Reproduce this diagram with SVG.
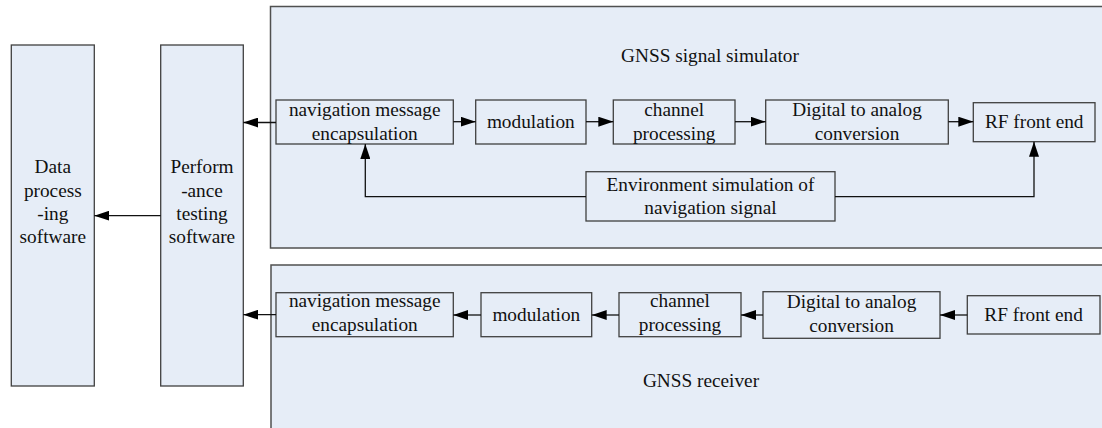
<svg xmlns="http://www.w3.org/2000/svg" width="1102" height="428" viewBox="0 0 1102 428">
  <style>
    .box { fill: #e6edf7; stroke: #404040; stroke-width: 1.3; }
    .panel { fill: #e6edf7; stroke: #505050; stroke-width: 1.5; }
    .lbl { font-family: "Liberation Serif", "Times New Roman", serif; font-size: 19.3px; fill: #111; text-anchor: middle; }
    .wire { fill: none; stroke: #111; stroke-width: 1.3; marker-end: url(#arrow); }
  </style>
  <defs>
    <marker id="arrow" viewBox="0 0 15 10" refX="15" refY="5" markerWidth="15" markerHeight="10" markerUnits="userSpaceOnUse" orient="auto">
      <path d="M0,0 L15,5 L0,10 Z" fill="#000"/>
    </marker>
  </defs>
  <rect width="1102" height="428" fill="#ffffff"/>

  <!-- simulator panel -->
  <g id="simulator">
    <rect class="panel" x="270.5" y="6.5" width="840" height="241.5"/>
    <text class="lbl" x="710" y="62">GNSS signal simulator</text>
  </g>

  <!-- receiver panel -->
  <g id="receiver">
    <rect class="panel" x="271" y="265" width="840" height="200"/>
    <text class="lbl" x="701" y="387">GNSS receiver</text>
  </g>

  <!-- software blocks -->
  <g id="data-processing">
    <rect class="box" x="11.3" y="45" width="83" height="341"/>
    <text class="lbl" x="52.8" y="173">Data</text>
    <text class="lbl" x="52.8" y="196.5">process</text>
    <text class="lbl" x="52.8" y="219.5">-ing</text>
    <text class="lbl" x="52.8" y="243">software</text>
  </g>
  <g id="performance-testing">
    <rect class="box" x="160.7" y="45" width="82.6" height="341"/>
    <text class="lbl" x="202" y="173">Perform</text>
    <text class="lbl" x="202" y="196.5">-ance</text>
    <text class="lbl" x="202" y="219.5">testing</text>
    <text class="lbl" x="202" y="243">software</text>
  </g>

  <!-- simulator chain -->
  <g id="sim-nav">
    <rect class="box" x="276" y="100" width="177.3" height="44"/>
    <text class="lbl" x="364.7" y="116">navigation message</text>
    <text class="lbl" x="364.7" y="140">encapsulation</text>
  </g>
  <g id="sim-mod">
    <rect class="box" x="475.7" y="100" width="110.3" height="44"/>
    <text class="lbl" x="530.8" y="128">modulation</text>
  </g>
  <g id="sim-channel">
    <rect class="box" x="613.3" y="100" width="121.7" height="44"/>
    <text class="lbl" x="674.2" y="116">channel</text>
    <text class="lbl" x="674.2" y="140">processing</text>
  </g>
  <g id="sim-dac">
    <rect class="box" x="765.7" y="100" width="182.6" height="44"/>
    <text class="lbl" x="857" y="116">Digital to analog</text>
    <text class="lbl" x="857" y="140">conversion</text>
  </g>
  <g id="sim-rf">
    <rect class="box" x="973.3" y="102.7" width="121.7" height="39"/>
    <text class="lbl" x="1034.2" y="128">RF front end</text>
  </g>
  <g id="sim-env">
    <rect class="box" x="586" y="171.7" width="249" height="49.3"/>
    <text class="lbl" x="710.5" y="191">Environment simulation of</text>
    <text class="lbl" x="710.5" y="214">navigation signal</text>
  </g>

  <!-- receiver chain -->
  <g id="rx-nav">
    <rect class="box" x="276" y="292.7" width="177.3" height="44"/>
    <text class="lbl" x="364.7" y="307">navigation message</text>
    <text class="lbl" x="364.7" y="331">encapsulation</text>
  </g>
  <g id="rx-mod">
    <rect class="box" x="481" y="292.7" width="110.7" height="44"/>
    <text class="lbl" x="536.3" y="320.5">modulation</text>
  </g>
  <g id="rx-channel">
    <rect class="box" x="619" y="292.7" width="122" height="44"/>
    <text class="lbl" x="680" y="307">channel</text>
    <text class="lbl" x="680" y="331">processing</text>
  </g>
  <g id="rx-dac">
    <rect class="box" x="763" y="291.7" width="177" height="46.6"/>
    <text class="lbl" x="851.5" y="307.5">Digital to analog</text>
    <text class="lbl" x="851.5" y="331.5">conversion</text>
  </g>
  <g id="rx-rf">
    <rect class="box" x="967.3" y="295.7" width="132.7" height="38.3"/>
    <text class="lbl" x="1033.6" y="320.5">RF front end</text>
  </g>

  <!-- connectors -->
  <g id="connectors">
    <path class="wire" d="M160.7,215.7 H94.3"/>
    <path class="wire" d="M276,122.5 H243.3"/>
    <path class="wire" d="M276,314.7 H243.3"/>

    <path class="wire" d="M453.3,121.7 H475.7"/>
    <path class="wire" d="M586,121.7 H613.3"/>
    <path class="wire" d="M735,121.7 H765.7"/>
    <path class="wire" d="M948.3,121.7 H973.3"/>
    <path class="wire" d="M586,196.7 H365.3 V144"/>
    <path class="wire" d="M835,196.7 H1034 V141.7"/>

    <path class="wire" d="M967.3,315 H940"/>
    <path class="wire" d="M763,315 H741"/>
    <path class="wire" d="M619,315 H591.7"/>
    <path class="wire" d="M481,315 H453.3"/>
  </g>
</svg>
